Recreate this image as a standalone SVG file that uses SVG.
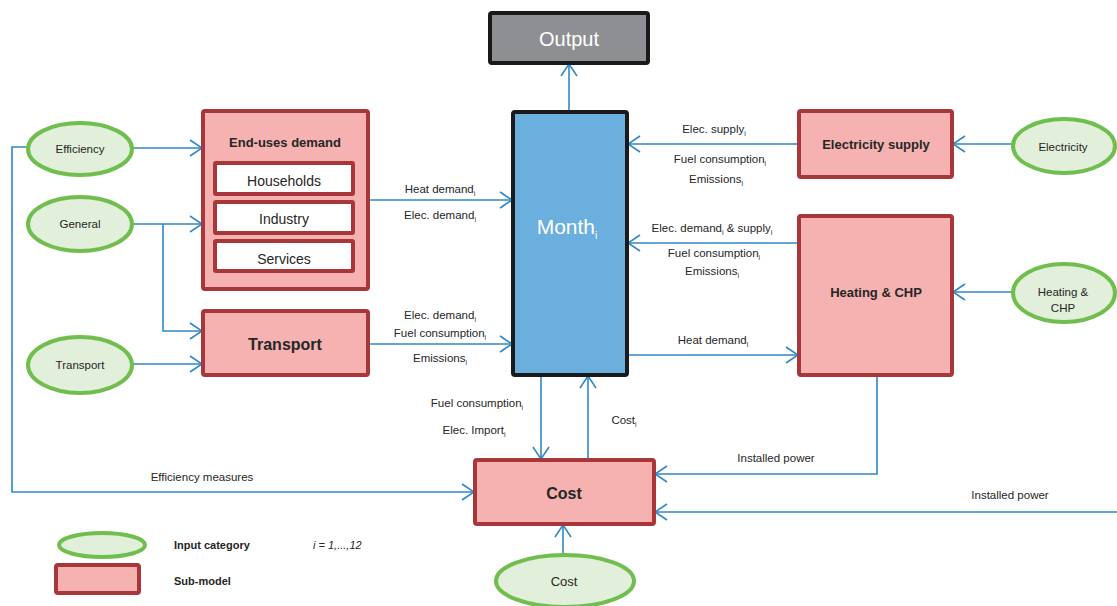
<svg xmlns="http://www.w3.org/2000/svg" width="1117" height="606" viewBox="0 0 1117 606">
<style>
.sub{fill:#f5b2b0;stroke:#a8363a;stroke-width:4}
.inner{fill:#ffffff;stroke:#a8363a;stroke-width:4}
.inp{fill:#e2efda;stroke:#70bf4e;stroke-width:4}
.ln{fill:none;stroke:#2f88c9;stroke-width:1.6}
text{font-family:"Liberation Sans",Arial,sans-serif;fill:#262626}
.lbl{font-size:11.5px;text-anchor:middle}
.t{font-size:13px;font-weight:bold;text-anchor:middle}
.tb{font-size:16px;font-weight:bold;text-anchor:middle}
.s{font-size:7px}
</style>
<defs>
<marker id="ah" viewBox="0 0 14 18" refX="13" refY="9" markerWidth="14" markerHeight="18" markerUnits="userSpaceOnUse" orient="auto">
<path d="M1,1 L13,9 L1,17" fill="none" stroke="#2f88c9" stroke-width="1.6"/>
</marker>
</defs>
<rect width="1117" height="606" fill="#ffffff"/>
<g id="connectors">
<path class="ln" d="M132,148 H202" marker-end="url(#ah)"/>
<path class="ln" d="M132,224 H202" marker-end="url(#ah)"/>
<path class="ln" d="M163,224 V331 H202" marker-end="url(#ah)"/>
<path class="ln" d="M132,364 H202" marker-end="url(#ah)"/>
<path class="ln" d="M28,147 H12 V492 H474" marker-end="url(#ah)"/>
<path class="ln" d="M368,200 H512" marker-end="url(#ah)"/>
<path class="ln" d="M368,344 H512" marker-end="url(#ah)"/>
<path class="ln" d="M569,112 V64" marker-end="url(#ah)"/>
<path class="ln" d="M799,144 H628" marker-end="url(#ah)"/>
<path class="ln" d="M799,243 H628" marker-end="url(#ah)"/>
<path class="ln" d="M627,355 H798" marker-end="url(#ah)"/>
<path class="ln" d="M1013,144 H953" marker-end="url(#ah)"/>
<path class="ln" d="M1115,146 H1117"/>
<path class="ln" d="M1013,292 H953" marker-end="url(#ah)"/>
<path class="ln" d="M541,375 V459" marker-end="url(#ah)"/>
<path class="ln" d="M588,460 V376" marker-end="url(#ah)"/>
<path class="ln" d="M877,375 V474 H655" marker-end="url(#ah)"/>
<path class="ln" d="M1117,512 H655" marker-end="url(#ah)"/>
<path class="ln" d="M563,555 V525" marker-end="url(#ah)"/>
<text class="lbl" x="202" y="481">Efficiency measures</text>
<text class="lbl" x="440" y="193">Heat demand<tspan class="s" dy="3">i</tspan></text>
<text class="lbl" x="440" y="219">Elec. demand<tspan class="s" dy="3">i</tspan></text>
<text class="lbl" x="440" y="319">Elec. demand<tspan class="s" dy="3">i</tspan></text>
<text class="lbl" x="440" y="337">Fuel consumption<tspan class="s" dy="3">i</tspan></text>
<text class="lbl" x="440" y="362">Emissions<tspan class="s" dy="3">i</tspan></text>
<text class="lbl" x="714" y="133">Elec. supply<tspan class="s" dy="3">i</tspan></text>
<text class="lbl" x="720" y="163">Fuel consumption<tspan class="s" dy="3">i</tspan></text>
<text class="lbl" x="716" y="183">Emissions<tspan class="s" dy="3">i</tspan></text>
<text class="lbl" x="712" y="232">Elec. demand<tspan class="s" dy="3">i</tspan><tspan dy="-3"> &amp; supply</tspan><tspan class="s" dy="3">i</tspan></text>
<text class="lbl" x="714" y="257">Fuel consumption<tspan class="s" dy="3">i</tspan></text>
<text class="lbl" x="712" y="275">Emissions<tspan class="s" dy="3">i</tspan></text>
<text class="lbl" x="713" y="344">Heat demand<tspan class="s" dy="3">i</tspan></text>
<text class="lbl" x="477" y="407">Fuel consumption<tspan class="s" dy="3">i</tspan></text>
<text class="lbl" x="474" y="434">Elec. Import<tspan class="s" dy="3">i</tspan></text>
<text class="lbl" x="624" y="424">Cost<tspan class="s" dy="3">i</tspan></text>
<text class="lbl" x="776" y="462">Installed power</text>
<text class="lbl" x="1010" y="499">Installed power</text>
</g>
<g id="output">
<rect x="490" y="13" width="158" height="50" rx="2" fill="#8e8f92" stroke="#1a1a1a" stroke-width="4"/>
<text x="569" y="46" font-size="20" text-anchor="middle" style="fill:#ffffff">Output</text>
</g>
<g id="month">
<rect x="513" y="112" width="114" height="263" rx="2" fill="#6aafdd" stroke="#1a1a1a" stroke-width="4"/>
<text x="567" y="234" font-size="21" text-anchor="middle" style="fill:#ffffff">Month<tspan font-size="10" dy="5">i</tspan></text>
</g>
<g id="enduses">
<rect class="sub" x="203" y="111" width="165" height="178" rx="2"/>
<text class="t" x="285" y="147">End-uses demand</text>
<rect class="inner" x="215" y="163" width="138" height="31" rx="1"/>
<text x="284" y="186" font-size="14" text-anchor="middle">Households</text>
<rect class="inner" x="215" y="202" width="138" height="31" rx="1"/>
<text x="284" y="224" font-size="14" text-anchor="middle">Industry</text>
<rect class="inner" x="215" y="241" width="138" height="30" rx="1"/>
<text x="284" y="264" font-size="14" text-anchor="middle">Services</text>
</g>
<g id="transport">
<rect class="sub" x="203" y="311" width="165" height="64" rx="2"/>
<text class="tb" x="285" y="350">Transport</text>
</g>
<g id="elecsupply">
<rect class="sub" x="799" y="111" width="153" height="66" rx="2"/>
<text class="t" x="876" y="149">Electricity supply</text>
</g>
<g id="heating">
<rect class="sub" x="799" y="216" width="153" height="159" rx="2"/>
<text class="t" x="876" y="297">Heating &amp; CHP</text>
</g>
<g id="cost">
<rect class="sub" x="475" y="460" width="179" height="64" rx="2"/>
<text class="tb" x="564" y="499">Cost</text>
</g>
<g id="in-efficiency">
<ellipse class="inp" cx="80" cy="149" rx="52" ry="26"/>
<text class="lbl" x="80" y="153">Efficiency</text>
</g>
<g id="in-general">
<ellipse class="inp" cx="80" cy="224" rx="52" ry="27"/>
<text class="lbl" x="80" y="228">General</text>
</g>
<g id="in-transport">
<ellipse class="inp" cx="80" cy="365" rx="52" ry="28"/>
<text class="lbl" x="80" y="369">Transport</text>
</g>
<g id="in-electricity">
<ellipse class="inp" cx="1064" cy="146" rx="51" ry="27"/>
<text class="lbl" x="1063" y="151">Electricity</text>
</g>
<g id="in-heating">
<ellipse class="inp" cx="1064" cy="293" rx="51" ry="29"/>
<text class="lbl" x="1063" y="296">Heating &amp;</text>
<text class="lbl" x="1063" y="312">CHP</text>
</g>
<g id="in-cost">
<ellipse class="inp" cx="565" cy="581" rx="69" ry="26"/>
<text x="564" y="586" font-size="13" text-anchor="middle">Cost</text>
</g>
<g id="legend">
<ellipse class="inp" cx="102" cy="545" rx="43" ry="12"/>
<text x="174" y="549" font-size="11" font-weight="bold">Input category</text>
<text x="313" y="549" font-size="11" font-style="italic">i = 1,...,12</text>
<rect class="sub" x="56" y="565" width="83" height="28" rx="2"/>
<text x="174" y="585" font-size="11" font-weight="bold">Sub-model</text>
</g>
</svg>
